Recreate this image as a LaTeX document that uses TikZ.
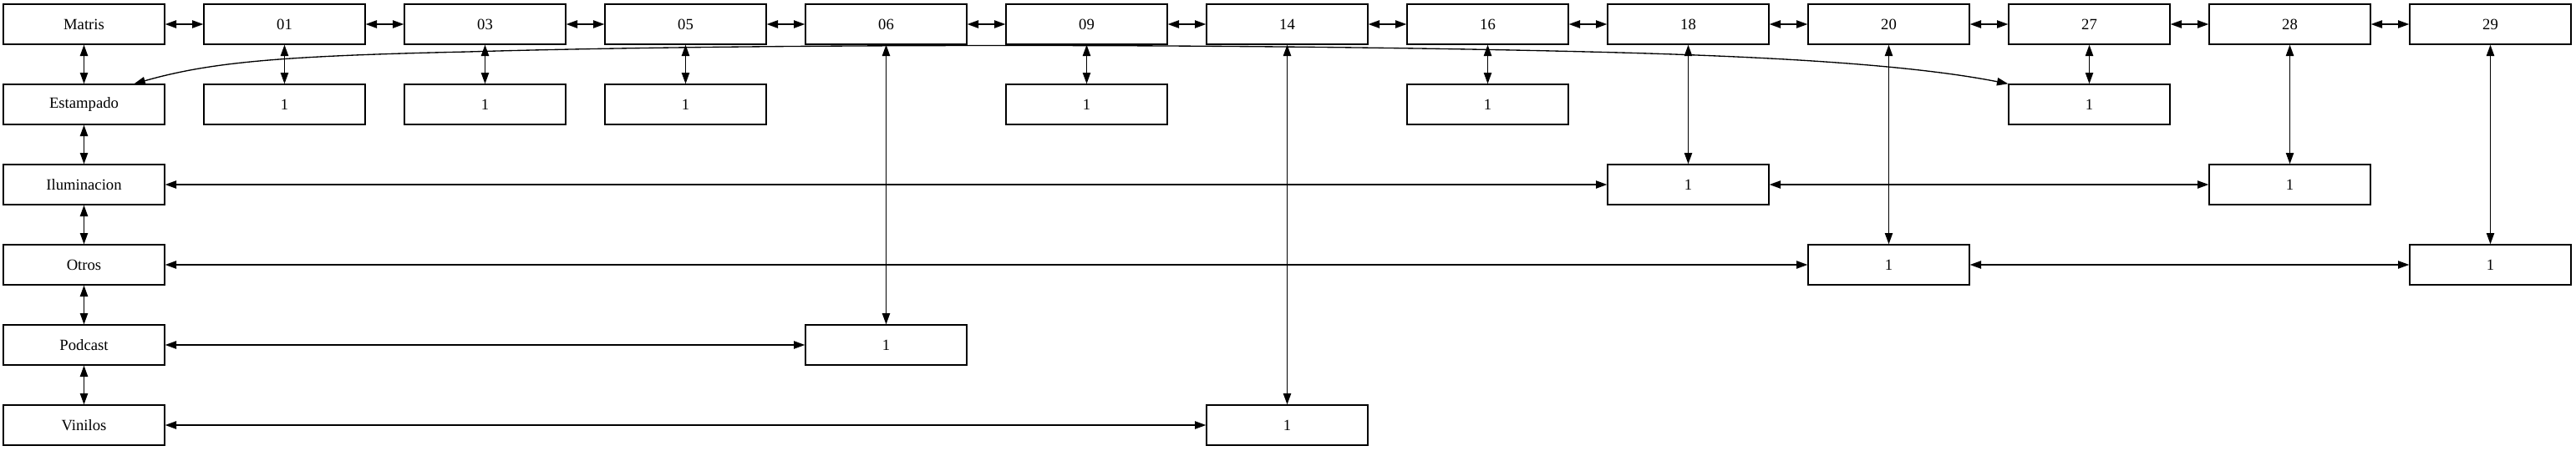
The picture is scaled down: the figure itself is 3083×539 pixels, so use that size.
\documentclass[tikz,border=0pt]{standalone}
\usepackage{fontspec}
\setmainfont{Liberation Serif}
\usetikzlibrary{arrows.meta}
\tikzset{
  caja/.style={draw, line width=1pt, minimum width=144.75pt, minimum height=36pt, inner sep=0pt, font=\fontsize{14pt}{16pt}\selectfont},
  flecha/.style={{Triangle[length=10pt,width=7pt]}-{Triangle[length=10pt,width=7pt]}, line width=1pt}
}
\begin{document}
\begin{tikzpicture}[x=0.75pt,y=-0.75pt]
  % marco de la imagen
  \useasboundingbox (0,0) rectangle (3083,539);
  \def\dx{240}
  \def\dy{96}
  % fila de arriba
  \node[caja] (Matris) at (100.5,29) {Matris};
  \foreach \n [count=\i] in {01,03,05,06,09,14,16,18,20,27,28,29}
    \node[caja] (T\n) at (100.5+\i*\dx,29) {\n};
  % columna de la izquierda
  \foreach \n [count=\j] in {Estampado,Iluminacion,Otros,Podcast,Vinilos}
    \node[caja] (\n) at (100.5,29+\j*\dy) {\n};
  % cajas con 1
  \foreach \n/\c in {01/1,03/2,05/3,09/5,16/7,27/10}
    \node[caja] (U\n) at (100.5+\c*\dx,29+\dy) {1};
  \node[caja] (I18) at (100.5+8*\dx,29+2*\dy) {1};
  \node[caja] (I28) at (100.5+11*\dx,29+2*\dy) {1};
  \node[caja] (O20) at (100.5+9*\dx,29+3*\dy) {1};
  \node[caja] (O29) at (100.5+12*\dx,29+3*\dy) {1};
  \node[caja] (P06) at (100.5+4*\dx,29+4*\dy) {1};
  \node[caja] (V14) at (100.5+6*\dx,29+5*\dy) {1};
  % flechas
  \foreach \a/\b in {Matris/T01,T01/T03,T03/T05,T05/T06,T06/T09,T09/T14,T14/T16,T16/T18,T18/T20,T20/T27,T27/T28,T28/T29,
      Matris/Estampado,Estampado/Iluminacion,Iluminacion/Otros,Otros/Podcast,Podcast/Vinilos,
      T01/U01,T03/U03,T05/U05,T09/U09,T16/U16,T27/U27,
      T18/I18,T28/I28,T20/O20,T29/O29,T06/P06,T14/V14,
      Iluminacion/I18,I18/I28,Otros/O20,O20/O29,Podcast/P06,Vinilos/V14}
    \draw[flecha] (\a) -- (\b);
  \draw[flecha] ([xshift=45pt]Estampado.north) .. controls (250,75) and (330,67) .. (560,62)
    .. controls (900,52) and (1500,52) .. (1900,62)
    .. controls (2150,68) and (2300,80) .. (U27.north west);
\end{tikzpicture}
\end{document}
